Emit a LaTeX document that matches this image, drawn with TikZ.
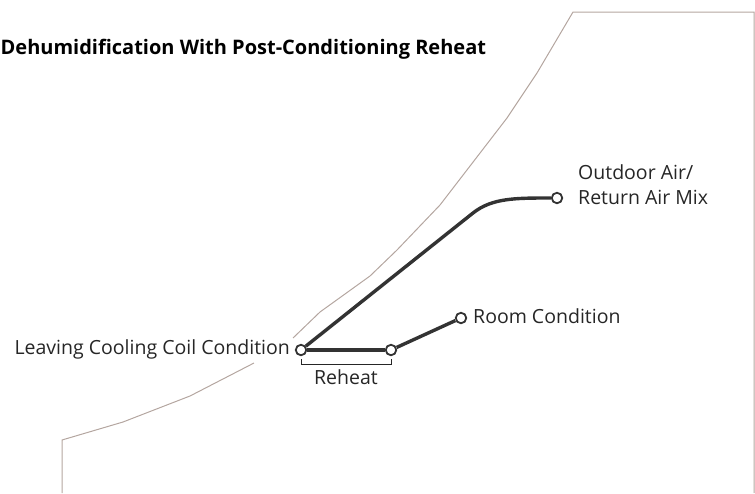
\documentclass[tikz,border=0pt]{standalone}
\usepackage{fontspec}
\setmainfont{Open Sans}
\usepackage{tikz}

\begin{document}
\begin{tikzpicture}[x=1pt,y=-1pt,
  pt/.style={circle,draw=black!80,fill=white,line width=1.8pt,inner sep=0pt,minimum size=10.5pt},
  lbl/.style={text=black!85,font=\fontsize{19.5}{25}\selectfont,inner sep=0pt},
  proc/.style={draw=black!80,line width=3.4pt},
  satline/.style={draw={rgb,255:red,180;green,166;blue,160},line width=1pt}]
\useasboundingbox (0,0) rectangle (755,493);
% saturation curve and chart border
\draw [satline] (62,493) -- (62,440) -- (123,422) -- (190,396) -- (254,363);
\draw [satline] (293,338) -- (320,312) -- (370,276) -- (397,250) -- (440,205) -- (507,118) -- (537,73) -- (573,12) -- (754,12) -- (754,493);
\node [anchor=base west,font=\bfseries\fontsize{20}{24}\selectfont,text=black,inner sep=0pt] (title) at (0.5,54) {Dehumidification With Post-Conditioning Reheat};
% state points
\node [pt] (lcc) at (301,350) {};
\node [pt] (rh) at (391,350) {};
\node [pt] (room) at (461,318) {};
\node [pt] (mix) at (557,198) {};
\coordinate (bend) at (473,213);
\draw [proc] (lcc) -- (rh);
\draw [proc] (rh) -- (room);
\draw [proc] (lcc) -- (bend) .. controls (492,198) and (515,198) .. (mix);
% labels
\node [lbl,anchor=east] (lcclbl) at (290,349) {Leaving Cooling Coil Condition};
\node [lbl,anchor=west] (roomlbl) at (473,316) {Room Condition};
\node [lbl,anchor=west,align=left] (mixlbl) at (578,185) {Outdoor Air/\\Return Air Mix};
\draw [black!85,line width=0.8pt] (301,359) -- (301,364) -- (391,364) -- (391,359);
\node [lbl,anchor=north] (rhlbl) at (346,369) {Reheat};
\end{tikzpicture}
\end{document}
